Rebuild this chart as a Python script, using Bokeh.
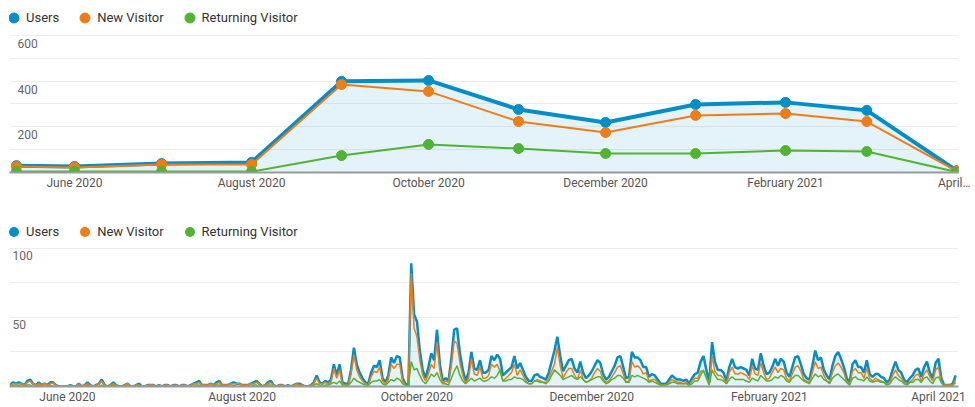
import pandas as pd
from bokeh.plotting import figure
from bokeh.models import (ColumnDataSource, Range1d, FixedTicker, Legend,
                          LegendItem, Grid)
from bokeh.layouts import column
from bokeh.core.properties import value
from bokeh.embed import file_html
from bokeh.resources import INLINE

# ---------------- data ----------------
SERIES = ["Users", "New Visitor", "Returning Visitor"]
COLORS = ["#058DC7", "#ED7E17", "#50B432"]

MONTH_DATES = ["2020-05-12", "2020-06-01", "2020-07-01", "2020-08-01", "2020-09-01",
               "2020-10-01", "2020-11-01", "2020-12-01", "2021-01-01", "2021-02-01",
               "2021-03-01", "2021-04-01"]
MONTHLY_USERS = [30, 26, 39, 44, 399, 403, 276, 219, 298, 307, 272, 8]
MONTHLY_NEW = [26, 22, 35, 35, 385, 355, 223, 175, 250, 258, 223, 6]
MONTHLY_RETURNING = [4, 4, 4, 4, 74, 123, 105, 83, 83, 96, 92, 2]

DAILY_START = "2020-05-12"
DAILY_END = "2021-04-07"
DAILY_USERS = [
    1, 3, 2, 3, 2, 1, 4, 5, 2, 1,
    3, 1, 2, 1, 3, 3, 1, 0, 0, 0,
    0, 1, 0, 0, 2, 0, 1, 3, 1, 0,
    1, 2, 5, 1, 0, 1, 3, 1, 0, 0,
    1, 2, 0, 0, 1, 2, 0, 0, 1, 1,
    1, 0, 1, 0, 1, 1, 0, 1, 1, 0,
    1, 1, 0, 1, 2, 3, 4, 1, 1, 1,
    2, 1, 3, 4, 1, 1, 1, 2, 3, 2,
    2, 1, 1, 1, 2, 3, 4, 2, 0, 1,
    3, 4, 1, 0, 1, 1, 0, 1, 0, 1,
    2, 2, 1, 0, 0, 1, 3, 8, 3, 2,
    4, 3, 5, 16, 8, 16, 3, 2, 2, 12,
    28, 16, 10, 6, 3, 2, 10, 15, 14, 19,
    6, 3, 8, 21, 17, 22, 21, 6, 2, 0,
    89, 52, 47, 26, 12, 6, 14, 24, 19, 41,
    16, 4, 6, 4, 20, 41, 42, 24, 12, 4,
    10, 25, 13, 12, 19, 10, 10, 12, 22, 19,
    23, 20, 8, 10, 12, 14, 22, 13, 17, 12,
    7, 4, 4, 8, 9, 7, 6, 5, 10, 18,
    26, 36, 22, 11, 15, 19, 20, 13, 10, 18,
    10, 6, 8, 11, 15, 19, 17, 9, 5, 7,
    11, 15, 21, 22, 14, 6, 7, 25, 21, 21,
    19, 14, 14, 7, 9, 8, 5, 2, 2, 2,
    5, 8, 6, 5, 5, 4, 5, 2, 6, 9,
    10, 18, 22, 12, 3, 32, 18, 12, 12, 10,
    4, 14, 20, 14, 13, 14, 13, 12, 8, 20,
    13, 12, 24, 15, 9, 10, 14, 20, 15, 20,
    18, 10, 7, 14, 21, 22, 16, 9, 6, 5,
    15, 26, 19, 21, 12, 8, 5, 15, 22, 25,
    20, 14, 6, 3, 16, 19, 14, 14, 10, 19,
    9, 7, 9, 9, 7, 6, 3, 5, 12, 18,
    12, 10, 5, 3, 6, 8, 12, 13, 7, 14,
    18, 10, 6, 17, 20, 6, 1, 1, 1, 2,
    8]
DAILY_NEW = [
    1, 2, 2, 2, 2, 1, 3, 4, 2, 1,
    2, 1, 2, 1, 2, 3, 1, 0, 0, 0,
    0, 1, 0, 0, 2, 0, 1, 2, 1, 0,
    1, 2, 4, 1, 0, 1, 2, 1, 0, 0,
    1, 2, 0, 0, 1, 1, 0, 0, 1, 1,
    1, 0, 1, 0, 1, 1, 0, 1, 1, 0,
    1, 1, 0, 1, 2, 2, 3, 1, 1, 1,
    2, 1, 2, 3, 1, 1, 1, 2, 2, 2,
    2, 1, 1, 1, 2, 2, 3, 2, 0, 1,
    2, 3, 1, 0, 1, 1, 0, 1, 0, 1,
    2, 1, 1, 0, 0, 1, 2, 6, 2, 2,
    3, 2, 3, 13, 6, 12, 2, 1, 1, 9,
    23, 12, 7, 4, 2, 1, 7, 11, 10, 14,
    4, 2, 5, 16, 13, 16, 16, 4, 1, 0,
    82, 42, 36, 19, 8, 4, 9, 16, 13, 32,
    11, 2, 4, 3, 15, 33, 31, 17, 8, 2,
    6, 20, 9, 8, 14, 6, 6, 8, 16, 14,
    16, 11, 4, 6, 8, 10, 16, 8, 12, 8,
    4, 2, 2, 4, 5, 4, 3, 3, 6, 11,
    16, 28, 15, 6, 10, 13, 13, 8, 5, 12,
    5, 3, 4, 6, 10, 13, 11, 5, 3, 4,
    7, 10, 14, 15, 9, 3, 4, 18, 14, 15,
    13, 9, 10, 4, 5, 5, 3, 1, 1, 1,
    3, 5, 4, 3, 3, 2, 3, 1, 4, 6,
    6, 11, 11, 7, 2, 22, 11, 8, 8, 6,
    2, 10, 14, 9, 9, 10, 9, 8, 5, 15,
    9, 8, 17, 10, 5, 6, 10, 14, 10, 13,
    12, 6, 4, 9, 14, 15, 11, 5, 4, 3,
    10, 18, 13, 14, 8, 4, 3, 10, 15, 17,
    14, 10, 3, 2, 11, 13, 10, 10, 6, 13,
    6, 4, 6, 5, 4, 3, 2, 3, 8, 12,
    8, 6, 3, 2, 3, 5, 8, 9, 4, 9,
    12, 7, 4, 12, 14, 3, 1, 1, 1, 1,
    5]
DAILY_RETURNING = [
    0, 1, 0, 1, 0, 0, 1, 1, 0, 0,
    1, 0, 0, 0, 1, 0, 0, 0, 0, 0,
    0, 0, 0, 0, 0, 0, 0, 1, 0, 0,
    0, 0, 1, 0, 0, 0, 1, 0, 0, 0,
    0, 0, 0, 0, 0, 1, 0, 0, 0, 0,
    0, 0, 0, 0, 0, 0, 0, 0, 0, 0,
    0, 0, 0, 0, 0, 1, 1, 0, 0, 0,
    0, 0, 1, 1, 0, 0, 0, 0, 1, 0,
    0, 0, 0, 0, 0, 1, 1, 0, 0, 0,
    1, 1, 0, 0, 0, 0, 0, 0, 0, 0,
    0, 1, 0, 0, 0, 0, 1, 2, 1, 0,
    1, 1, 2, 3, 2, 4, 1, 1, 1, 3,
    6, 4, 3, 2, 1, 1, 3, 4, 4, 5,
    2, 1, 3, 5, 4, 6, 5, 2, 1, 0,
    18, 12, 13, 8, 4, 2, 5, 9, 7, 10,
    5, 2, 2, 1, 6, 11, 15, 8, 4, 2,
    4, 6, 4, 5, 6, 4, 4, 5, 7, 6,
    8, 12, 4, 4, 5, 5, 7, 6, 6, 5,
    3, 2, 2, 4, 4, 3, 3, 2, 4, 8,
    12, 10, 8, 5, 6, 7, 8, 6, 5, 7,
    5, 3, 4, 5, 6, 7, 7, 4, 2, 3,
    5, 6, 8, 8, 6, 3, 3, 8, 7, 8,
    7, 6, 5, 3, 4, 3, 2, 1, 1, 1,
    2, 3, 3, 2, 2, 2, 2, 1, 2, 4,
    4, 8, 12, 6, 1, 12, 8, 5, 5, 4,
    2, 5, 7, 5, 5, 5, 5, 4, 3, 6,
    5, 4, 8, 6, 4, 4, 5, 7, 6, 8,
    7, 4, 3, 6, 8, 8, 6, 4, 3, 2,
    6, 9, 7, 8, 5, 4, 2, 6, 8, 9,
    7, 5, 3, 1, 6, 7, 5, 5, 4, 7,
    4, 3, 4, 4, 3, 3, 1, 2, 5, 7,
    5, 4, 2, 1, 3, 3, 5, 5, 3, 6,
    7, 4, 2, 6, 7, 3, 0, 0, 0, 1,
    3]

X_TICK_DATES = ["2020-06-01", "2020-08-01", "2020-10-01", "2020-12-01",
                "2021-02-01", "2021-04-01"]
X_TICK_LABELS_TOP = ["June 2020", "August 2020", "October 2020", "December 2020",
                     "February 2021", "April\u2026"]
X_TICK_LABELS_BOTTOM = ["June 2020", "August 2020", "October 2020", "December 2020",
                        "February 2021", "April 2021"]

TOP_GRID = [0, 100, 200, 300, 400, 500, 600]
TOP_LABELS = [200, 400, 600]
TOP_YMAX = 718
BOTTOM_GRID = [0, 25, 50, 75, 100]
BOTTOM_LABELS = [50, 100]
BOTTOM_YMAX = 130

FONT = "Roboto"
DAY = pd.Timedelta(days=1)


def ms(d):
    return int(pd.Timestamp(d).value // 10**6)


def style(p, tick_labels, grid_ticks):
    p.outline_line_color = None
    p.grid.visible = False
    p.add_layout(Grid(dimension=1, ticker=FixedTicker(ticks=grid_ticks),
                      grid_line_color="#EDEDED", grid_line_width=1))
    ax = p.xaxis[0]
    ax.ticker = FixedTicker(ticks=[ms(d) for d in X_TICK_DATES])
    ax.major_label_overrides = {ms(d): t for d, t in zip(X_TICK_DATES, tick_labels)}
    ax.axis_line_color = "#9A9A9A"
    ax.axis_line_width = 2
    ax.major_tick_line_color = None
    ax.minor_tick_line_color = None
    ax.major_tick_out = 0
    ax.major_tick_in = 0
    ax.minor_tick_out = 0
    ax.major_label_standoff = 3
    ax.major_label_text_font = FONT
    ax.major_label_text_font_size = "12px"
    ax.major_label_text_color = "#555555"


def add_legend(p, renderers, loc):
    items = [LegendItem(label=s, renderers=[r]) for s, r in zip(SERIES, renderers)]
    lg = Legend(items=items, orientation="horizontal", location=loc,
                glyph_width=25, glyph_height=25, label_standoff=0, spacing=13,
                padding=0, margin=0, border_line_color=None,
                background_fill_alpha=0,
                label_text_font=FONT, label_text_font_size="13px",
                label_text_color="#333333")
    p.add_layout(lg)


def add_ylabels(p, labels, xstart, dx, dy):
    src = ColumnDataSource(dict(x=[xstart] * len(labels), y=labels,
                                t=[str(v) for v in labels]))
    p.text(x="x", y="y", text="t", source=src, text_font=value(FONT),
           text_font_size=value("12px"), text_color="#666666",
           text_align="left", text_baseline="middle", x_offset=dx, y_offset=dy)


# ---------------- top (monthly) ----------------
mdates = pd.to_datetime(MONTH_DATES)
msrc = ColumnDataSource(dict(x=mdates, u=MONTHLY_USERS, n=MONTHLY_NEW,
                             r=MONTHLY_RETURNING, z=[0] * len(MONTHLY_USERS)))
x1s = mdates[0] - 2.4 * DAY
x1e = mdates[-1] + 0.6 * DAY
p1 = figure(width=970, height=206, x_axis_type="datetime", y_axis_location=None,
            x_range=Range1d(x1s, x1e), y_range=Range1d(0, TOP_YMAX),
            output_backend="svg", toolbar_location=None,
            min_border_left=9, min_border_right=12, min_border_top=8,
            min_border_bottom=34)
style(p1, X_TICK_LABELS_TOP, TOP_GRID)
p1.varea(x="x", y1="z", y2="u", source=msrc, fill_color=COLORS[0], fill_alpha=0.11)
rs = []
for key, col, lw in zip(["u", "n", "r"], COLORS, [4, 2, 2]):
    p1.line(x="x", y=key, source=msrc, line_color=col, line_width=lw)
    rs.append(p1.scatter(x="x", y=key, source=msrc, size=10, fill_color=col,
                         line_color=col, marker="circle"))
add_legend(p1, rs, (-8, 142))
add_ylabels(p1, TOP_LABELS, x1s, 8, 8)

# ---------------- bottom (daily) ----------------
ddates = pd.date_range(DAILY_START, DAILY_END, freq="D")
dsrc = ColumnDataSource(dict(x=ddates, u=DAILY_USERS, n=DAILY_NEW,
                             r=DAILY_RETURNING, z=[0] * len(DAILY_USERS)))
x2s = ddates[0] - 0.2 * DAY
x2e = ddates[-1] + 1.0 * DAY
p2 = figure(width=970, height=200, x_axis_type="datetime", y_axis_location=None,
            x_range=Range1d(x2s, x2e), y_range=Range1d(0, BOTTOM_YMAX),
            output_backend="svg", toolbar_location=None,
            min_border_left=9, min_border_right=10, min_border_top=0,
            min_border_bottom=18)
style(p2, X_TICK_LABELS_BOTTOM, BOTTOM_GRID)
p2.varea(x="x", y1="z", y2="u", source=dsrc, fill_color=COLORS[0], fill_alpha=0.11)
rs2 = []
for key, col, lw in zip(["u", "n", "r"], COLORS, [2.5, 1.5, 1.5]):
    p2.line(x="x", y=key, source=dsrc, line_color=col, line_width=lw)
    # zero-size markers: carry the legend's dot glyph only
    rs2.append(p2.scatter(x="x", y=key, source=dsrc, size=0, fill_color=col,
                          line_color=None, marker="circle"))
add_legend(p2, rs2, (-8, 142))
add_ylabels(p2, BOTTOM_LABELS, x2s, 3, 7)

layout = column(p1, p2, spacing=0)
open("out.html", "w").write(file_html(layout, INLINE))
